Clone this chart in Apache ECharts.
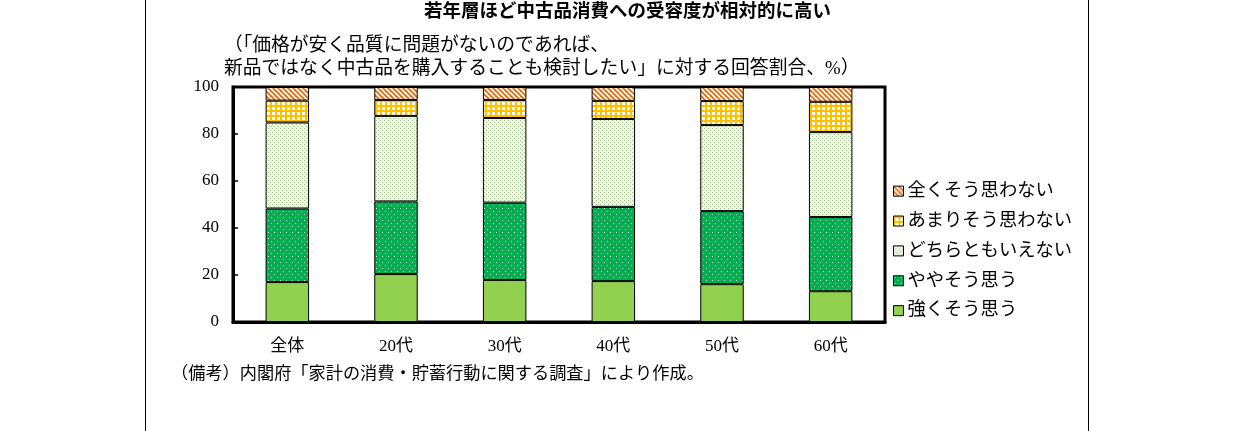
<!DOCTYPE html>
<html><head><meta charset="utf-8">
<script src="https://cdn.jsdelivr.net/npm/echarts@6/dist/echarts.min.js"></script>
<style>html,body{margin:0;padding:0;background:#fff}#c{width:1237px;height:431px}</style>
</head><body><div id="c"></div>
<script>
const categories = ['全体', '20代', '30代', '40代', '50代', '60代'];
const seriesNames = ['強くそう思う', 'ややそう思う', 'どちらともいえない', 'あまりそう思わない', '全くそう思わない'];
const strongAgree = [17.0, 20.4, 17.9, 17.4, 16.1, 13.1];
const someAgree = [31.3, 30.9, 32.9, 31.6, 31.1, 31.6];
const neutral = [36.6, 36.4, 36.0, 37.4, 36.6, 36.1];
const someDisagree = [9.3, 6.8, 7.7, 7.7, 10.2, 12.9];
const strongDisagree = [5.8, 5.5, 5.5, 5.9, 6.0, 6.3];
const yTicks = [0, 20, 40, 60, 80, 100];

const serif = "'Liberation Serif','DejaVu Serif','Noto Sans CJK JP'";

function mk(w, h, draw) {
  const c = document.createElement('canvas'); c.width = w; c.height = h;
  const g = c.getContext('2d'); draw(g); return { image: c, repeat: 'repeat' };
}
const patStrong = '#92D050';
const patSome = mk(6, 6, g => {
  g.fillStyle = '#00B050'; g.fillRect(0, 0, 6, 6);
  g.fillStyle = 'rgba(255,255,255,0.85)';
  g.fillRect(1, 1, 1, 1); g.fillRect(4, 4, 1, 1);
});
const patNeutral = mk(4, 4, g => {
  g.fillStyle = '#F1F4EA'; g.fillRect(0, 0, 4, 4);
  g.fillStyle = '#A3C487';
  g.fillRect(0, 0, 1, 1); g.fillRect(2, 2, 1, 1);
});
const patSomeDis = mk(5, 5, g => {
  g.fillStyle = '#FFC000'; g.fillRect(0, 0, 5, 5);
  g.fillStyle = '#FFFFFF'; g.fillRect(2, 2, 3, 3);
});
const patStrongDis = mk(5, 5, g => {
  g.fillStyle = '#FFFFFF'; g.fillRect(0, 0, 5, 5);
  g.strokeStyle = '#E46C0A'; g.lineWidth = 1.8;
  for (let k = -1; k <= 1; k++) { g.beginPath(); g.moveTo(k * 5 - 1, -1); g.lineTo(k * 5 + 6, 6); g.stroke(); }
});
const fills = [patStrong, patSome, patNeutral, patSomeDis, patStrongDis];
const dataSets = [strongAgree, someAgree, neutral, someDisagree, strongDisagree];

const chart = echarts.init(document.getElementById('c'), null, { renderer: 'canvas' });
chart.setOption({
  animation: false,
  backgroundColor: '#fff',
  grid: { left: 233, right: 352, top: 87, bottom: 109, show: true, borderColor: '#000', borderWidth: 3, containLabel: false },
  xAxis: {
    type: 'category', data: categories,
    axisLine: { lineStyle: { color: '#000', width: 3 } },
    axisTick: { show: false },
    axisLabel: { color: '#000', fontFamily: serif, fontSize: 17, margin: 16 }
  },
  yAxis: {
    type: 'value', min: 0, max: 100, interval: 20,
    axisLine: { show: true, lineStyle: { color: '#000', width: 3 } },
    axisTick: { show: true, inside: true, length: 5, lineStyle: { color: '#000', width: 1.5 } },
    splitLine: { show: false },
    axisLabel: { color: '#000', fontFamily: serif, fontSize: 17, margin: 14, verticalAlign: 'middle', padding: [6, 0, 0, 0],
      formatter: v => yTicks.includes(v) ? String(v) : '' }
  },
  legend: {
    orient: 'vertical', left: 888, top: 177, itemGap: 11.6,
    itemWidth: 10, itemHeight: 10, icon: 'rect',
    itemStyle: { borderColor: '#000', borderWidth: 1 },
    textStyle: { color: '#000', fontFamily: serif, fontSize: 18.3, lineHeight: 18, padding: [0, 0, 0, -1] },
    data: seriesNames.slice().reverse()
  },
  series: seriesNames.map((n, i) => ({
    name: n, type: 'bar', stack: 'total', barWidth: '40%',
    itemStyle: { color: fills[i], borderColor: '#000', borderWidth: 1 },
    data: dataSets[i]
  })),
  graphic: [
    { type: 'line', shape: { x1: 145.5, y1: 0, x2: 145.5, y2: 431 }, style: { stroke: '#000', lineWidth: 1 } },
    { type: 'line', shape: { x1: 1088.5, y1: 0, x2: 1088.5, y2: 431 }, style: { stroke: '#000', lineWidth: 1 } },
    { type: 'text', left: 424, top: 1, style: { text: '若年層ほど中古品消費への受容度が相対的に高い', font: "bold 18.5px 'Noto Sans CJK JP'", fill: '#000' } },
    { type: 'text', left: 224, top: 37, style: { text: '（「価格が安く品質に問題がないのであれば、', font: "18.8px " + serif, fill: '#000' } },
    { type: 'text', left: 224, top: 60, style: { text: '新品ではなく中古品を購入することも検討したい」に対する回答割合、%）', font: "18.8px " + serif, fill: '#000' } },
    { type: 'text', left: 171, top: 366, style: { text: '（備考）内閣府「家計の消費・貯蓄行動に関する調査」により作成。', font: "17.2px " + serif, fill: '#000' } }
  ]
});
</script></body></html>
